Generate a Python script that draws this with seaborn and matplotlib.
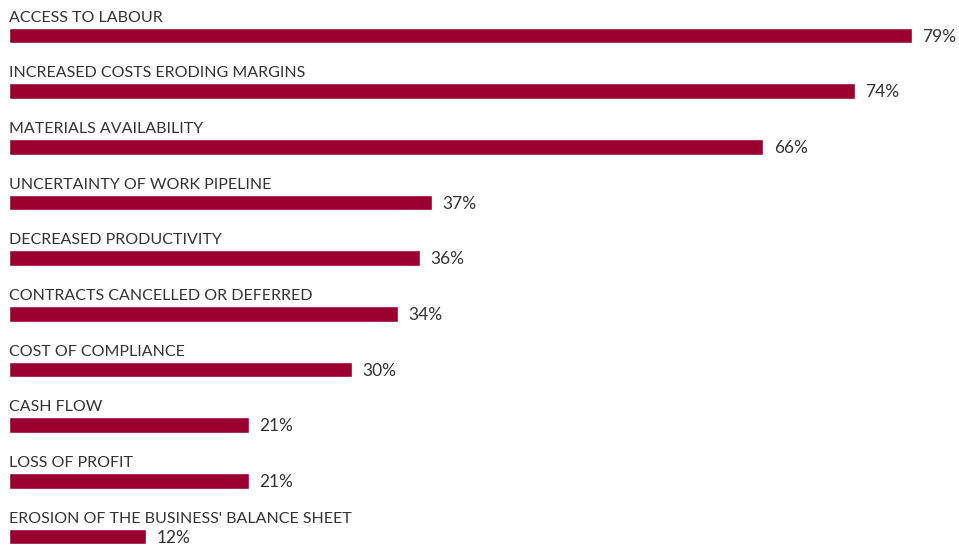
import matplotlib
matplotlib.use("Agg")
import matplotlib.pyplot as plt
import seaborn as sns
import pandas as pd

categories = [
    "ACCESS TO LABOUR",
    "INCREASED COSTS ERODING MARGINS",
    "MATERIALS AVAILABILITY",
    "UNCERTAINTY OF WORK PIPELINE",
    "DECREASED PRODUCTIVITY",
    "CONTRACTS CANCELLED OR DEFERRED",
    "COST OF COMPLIANCE",
    "CASH FLOW",
    "LOSS OF PROFIT",
    "EROSION OF THE BUSINESS' BALANCE SHEET",
]
values = [79, 74, 66, 37, 36, 34, 30, 21, 21, 12]

df = pd.DataFrame({"issue": categories, "share": values})

sns.set_theme(style="white")
plt.rcParams["font.family"] = ["Lato", "DejaVu Sans"]

bar_color = "#990030"
text_color = "#333333"

fig = plt.figure(figsize=(9.59, 5.46), dpi=100)
ax = fig.add_axes([9 / 959, 0, 950 / 959, 1])

sns.barplot(data=df, x="share", y="issue", orient="h", color=bar_color,
            saturation=1, width=0.28, ax=ax)

ax.set_xlim(0, 79 * 950 / 903)
ax.set_ylim(9.17, -0.638)

for i, (name, v) in enumerate(zip(categories, values)):
    ax.text(0, i - 0.25, name, ha="left", va="baseline", fontsize=11.5,
            color=text_color)
    ax.text(v + 0.9, i + 0.02, f"{v}%", ha="left", va="center", fontsize=12.5,
            color=text_color)

ax.set_xlabel("")
ax.set_ylabel("")
ax.set_xticks([])
ax.set_yticks([])
for s in ax.spines.values():
    s.set_visible(False)
ax.patch.set_alpha(0)

fig.savefig("out.png", dpi=100, facecolor="white")
